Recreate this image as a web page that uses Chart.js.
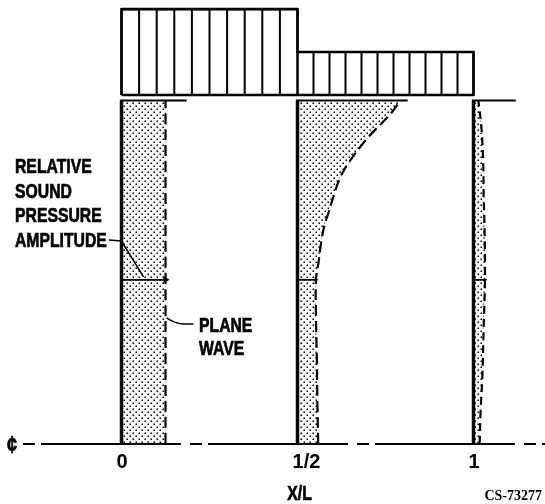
<!DOCTYPE html>
<html>
<head>
<meta charset="utf-8">
<script src="https://cdn.jsdelivr.net/npm/chart.js@4.4.0/dist/chart.umd.min.js"></script>
<style>
  html, body { margin: 0; padding: 0; background: #fff; }
</style>
</head>
<body>
<canvas id="chart" width="545" height="504"></canvas>
<script>
// x/L stations where the pressure profiles are drawn
var stations = [0, 0.5, 1];
var tickLabels = ['0', '1/2', '1'];

// radial position r/R (0 = centreline, 1 = wall) and relative amplitude
// (plane wave = 1) at each station
var radius0 = [0, 0.478, 1];
var amp0 = [1, 1, 1];
var radiusHalf = [0, 0.128, 0.245, 0.362, 0.478, 0.531, 0.580, 0.630, 0.676,
                  0.726, 0.776, 0.822, 0.892, 0.959, 1.0];
var ampHalf = [0.47, 0.45, 0.44, 0.42, 0.42, 0.48, 0.53, 0.60, 0.71,
               0.83, 0.97, 1.18, 1.60, 2.10, 2.34];
var radius1 = [0, 0.093, 0.192, 0.338, 0.478, 0.630, 0.726, 0.822, 0.921, 1.0];
var amp1 = [0.14, 0.16, 0.20, 0.23, 0.26, 0.25, 0.23, 0.22, 0.18, 0.11];

// acoustic liner over the duct: cells in each half, cell top (r/R), base
var linerCells = [10, 11];
var linerTop = [1.266, 1.141];
var linerBase = 1.016;

// radius where the amplitude arrows sit
var markerR = 0.478;

// drawing constants
var AMP_SCALE = 0.125;              // x/L per unit of relative amplitude
var WALL_STUB = [0.185, 0.313, 0.12];
var SANS = '"Liberation Sans", Arial, sans-serif';

var stipple = (function() {
  var tile = document.createElement('canvas');
  tile.width = 6;
  tile.height = 6;
  var g = tile.getContext('2d');
  g.fillStyle = '#000';
  g.fillRect(0.5, 0.5, 1.5, 1.5);
  g.fillRect(3.5, 3.5, 1.5, 1.5);
  return g.createPattern(tile, 'repeat');
})();

function profile(station, radius, amp) {
  return radius.map(function(r, i) {
    return {x: station + amp[i] * AMP_SCALE, y: r};
  });
}

function marker(station, radius, amp) {
  var i = radius.indexOf(markerR);
  return [{x: station, y: markerR}, {x: station + amp[i] * AMP_SCALE, y: markerR}];
}

// zig-zag through the cell walls of one half of the liner
function linerCellsPath(x0, x1, n, top) {
  var pts = [];
  for (var k = 0; k <= n; k++) {
    var x = x0 + (x1 - x0) * k / n;
    if (k % 2 === 0) {
      pts.push({x: x, y: linerBase}, {x: x, y: top});
    } else {
      pts.push({x: x, y: top}, {x: x, y: linerBase});
    }
  }
  return pts;
}

var profiles = [[radius0, amp0], [radiusHalf, ampHalf], [radius1, amp1]];
var datasets = [];

// stippled pressure profiles with dashed outline
profiles.forEach(function(p, k) {
  datasets.push({
    data: profile(stations[k], p[0], p[1]),
    fill: {target: {value: stations[k]}},
    backgroundColor: stipple,
    borderColor: '#000',
    borderWidth: 2.2,
    borderDash: k === 2 ? [8, 5] : [11, 5],
    tension: 0.35,
    pointRadius: 0,
    order: 10
  });
});

// duct stations: solid edge, wall stub and amplitude arrow
stations.forEach(function(s, k) {
  datasets.push({
    data: [{x: s, y: 0}, {x: s, y: 1}],
    borderColor: '#000', borderWidth: 3.5, pointRadius: 0, fill: false, order: 5
  });
  datasets.push({
    data: [{x: s - 0.004, y: 1}, {x: s + WALL_STUB[k], y: 1}],
    borderColor: '#000', borderWidth: 2, pointRadius: 0, fill: false, order: 5
  });
  datasets.push({
    data: marker(s, profiles[k][0], profiles[k][1]),
    borderColor: '#000', borderWidth: 1.8, fill: false, order: 4,
    pointRadius: [0, k === 0 ? 4 : 2.5],
    pointStyle: 'triangle', rotation: 90,
    pointBackgroundColor: '#000', pointBorderWidth: 0
  });
});

// liner outline and cell walls
datasets.push({
  data: [{x: 0, y: linerBase}, {x: 0, y: linerTop[0]}, {x: 0.5, y: linerTop[0]},
         {x: 0.5, y: linerTop[1]}, {x: 1, y: linerTop[1]}, {x: 1, y: linerBase},
         {x: 0, y: linerBase}],
  borderColor: '#000', borderWidth: 2.6, borderJoinStyle: 'round',
  pointRadius: 0, fill: false, order: 3
});
datasets.push({
  data: linerCellsPath(0, 0.5, linerCells[0], linerTop[0]),
  borderColor: '#000', borderWidth: 2, pointRadius: 0, fill: false, order: 3
});
datasets.push({
  data: linerCellsPath(0.5, 1, linerCells[1], linerTop[1]),
  borderColor: '#000', borderWidth: 2, pointRadius: 0, fill: false, order: 3
});

// centreline
datasets.push({
  data: [{x: -0.28, y: 0}, {x: 1.21, y: 0}],
  borderColor: '#000', borderWidth: 2, borderDash: [12, 6, 140, 9],
  pointRadius: 0, fill: false, order: 20
});

// bold, narrowed lettering like the original drawing
function narrowText(ctx, text, x, y, align) {
  var w = ctx.measureText(text).width * 0.75;
  var left = align === 'center' ? x - w / 2 : align === 'right' ? x - w : x;
  ctx.save();
  ctx.translate(left, y);
  ctx.scale(0.75, 1);
  ctx.textAlign = 'left';
  ctx.lineWidth = 0.7;
  ctx.fillText(text, 0, 0);
  ctx.strokeText(text, 0, 0);
  ctx.restore();
  return left + w;
}

var annotations = {
  id: 'annotations',
  afterDraw: function(chart) {
    var ctx = chart.ctx;
    var xs = chart.scales.x;
    var ys = chart.scales.y;
    ctx.save();
    ctx.fillStyle = '#000';
    ctx.strokeStyle = '#000';
    ctx.font = 'bold 21px ' + SANS;
    ctx.textBaseline = 'alphabetic';

    var lines = ['RELATIVE', 'SOUND', 'PRESSURE', 'AMPLITUDE'];
    var ampEnd = 0;
    lines.forEach(function(t, i) {
      ampEnd = narrowText(ctx, t, 15, 173 + i * 24.7, 'left');
    });
    var x0 = xs.getPixelForValue(stations[0]);
    var yM = ys.getPixelForValue(markerR);
    ctx.lineWidth = 1.6;
    ctx.beginPath();
    ctx.moveTo(ampEnd + 2, 240);
    ctx.lineTo(x0, 241);
    ctx.lineTo(x0 + 22, yM - 3);
    ctx.stroke();

    // plane wave label
    var xp = xs.getPixelForValue(stations[0] + amp0[0] * AMP_SCALE);
    var yp = ys.getPixelForValue(0.367);
    narrowText(ctx, 'PLANE', 199, 332, 'left');
    narrowText(ctx, 'WAVE', 199, 355, 'left');
    ctx.lineWidth = 1.6;
    ctx.beginPath();
    ctx.moveTo(xp + 1, yp);
    ctx.quadraticCurveTo(xp + 10, yp + 6, xp + 18, yp + 6);
    ctx.lineTo(xp + 28, yp + 6);
    ctx.stroke();

    // axis name
    narrowText(ctx, 'X/L', xs.getPixelForValue(0.5) + 2, 500, 'center');

    // centreline symbol
    ctx.font = 'bold 24px ' + SANS;
    ctx.textBaseline = 'middle';
    narrowText(ctx, '\u00a2', 12, ys.getPixelForValue(0) + 2, 'center');

    // drawing number
    ctx.textBaseline = 'alphabetic';
    ctx.font = 'bold 14px "Liberation Serif", serif';
    ctx.textAlign = 'right';
    ctx.fillText('CS-73277', 542, 500);
    ctx.restore();
  }
};

new Chart(document.getElementById('chart'), {
  type: 'line',
  data: {datasets: datasets},
  options: {
    indexAxis: 'y',
    responsive: false,
    animation: false,
    devicePixelRatio: 1,
    layout: {padding: 0, autoPadding: false},
    plugins: {legend: {display: false}, tooltip: {enabled: false}},
    scales: {
      x: {
        type: 'linear',
        position: 'bottom',
        min: -0.3452,
        max: 1.2031,
        grid: {display: false, drawTicks: false},
        border: {display: false},
        afterBuildTicks: function(axis) {
          axis.ticks = stations.map(function(v) { return {value: v}; });
        },
        afterFit: function(axis) { axis.height = 54; },
        ticks: {
          autoSkip: false,
          maxRotation: 0,
          align: 'start',
          labelOffset: -5,
          padding: 0,
          color: '#000',
          font: {family: SANS, size: 20, weight: 'bold'},
          callback: function(v, i) { return tickLabels[i]; }
        }
      },
      y: {
        type: 'linear',
        display: false,
        min: -0.0175,
        max: 1.2926
      }
    }
  },
  plugins: [annotations]
});
</script>
</body>
</html>
